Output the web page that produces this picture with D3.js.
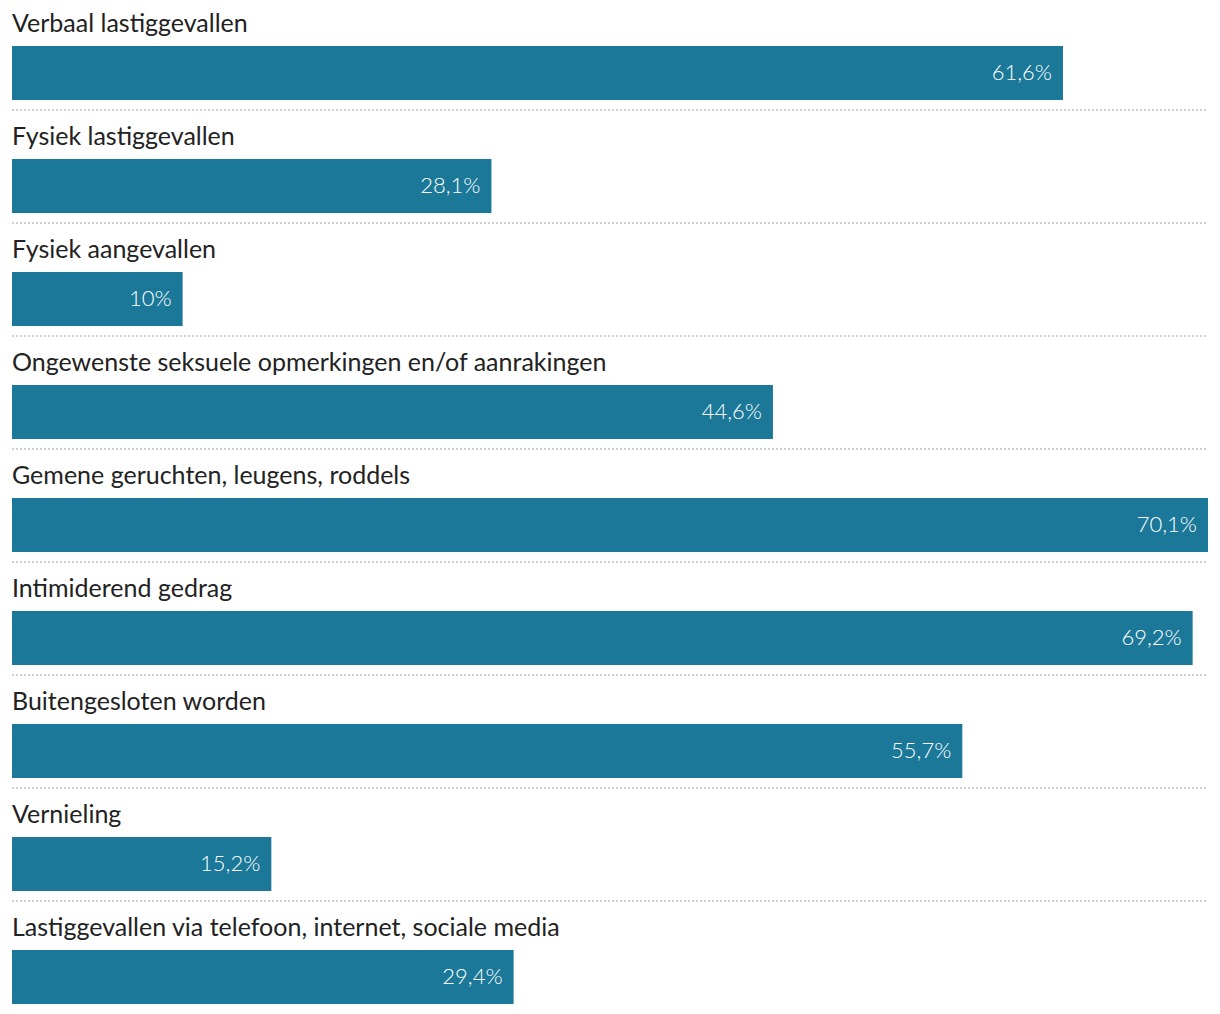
<!DOCTYPE html>
<html><head><meta charset="utf-8">
<script src="https://cdn.jsdelivr.net/npm/d3@7"></script>
<style>body{margin:0;background:#fff;}svg{display:block;}</style>
</head><body>
<script>
const categories = [
  "Verbaal lastiggevallen",
  "Fysiek lastiggevallen",
  "Fysiek aangevallen",
  "Ongewenste seksuele opmerkingen en/of aanrakingen",
  "Gemene geruchten, leugens, roddels",
  "Intimiderend gedrag",
  "Buitengesloten worden",
  "Vernieling",
  "Lastiggevallen via telefoon, internet, sociale media"
];
const values = [61.6, 28.1, 10, 44.6, 70.1, 69.2, 55.7, 15.2, 29.4];
const valueLabels = ["61,6%", "28,1%", "10%", "44,6%", "70,1%", "69,2%", "55,7%", "15,2%", "29,4%"];

const W = 1220, H = 1014;
const left = 12, right = 1208;
const pitch = 113, barTop = 46, barH = 54;

const svg = d3.select("body").append("svg").attr("width", W).attr("height", H);
const x = d3.scaleLinear().domain([0, d3.max(values)]).range([left, right]);
const y = d3.scaleBand().domain(categories).range([0, pitch * categories.length]).paddingInner(0).paddingOuter(0);

const g = svg.selectAll("g.row").data(categories).enter().append("g")
  .attr("class", "row").attr("transform", d => `translate(0,${y(d)})`);

g.append("text").attr("x", left).attr("y", 32)
  .attr("font-family", "Lato, sans-serif").attr("font-size", 25).attr("font-weight", 400).attr("fill", "#222")
  .text(d => d);

g.append("rect").attr("x", left).attr("y", barTop)
  .attr("width", (d, i) => x(values[i]) - left).attr("height", barH)
  .attr("fill", "#1c7898");

g.append("text").attr("x", (d, i) => x(values[i]) - 11).attr("y", barTop + 34)
  .attr("text-anchor", "end")
  .attr("font-family", "Lato, sans-serif").attr("font-size", 22).attr("font-weight", 300).attr("fill", "#fff")
  .text((d, i) => valueLabels[i]);

g.filter((d, i) => i < categories.length - 1).append("line")
  .attr("x1", left).attr("x2", right).attr("y1", 110).attr("y2", 110)
  .attr("stroke", "#d0d0d0").attr("stroke-width", 2).attr("stroke-dasharray", "2,2");
</script>
</body></html>
